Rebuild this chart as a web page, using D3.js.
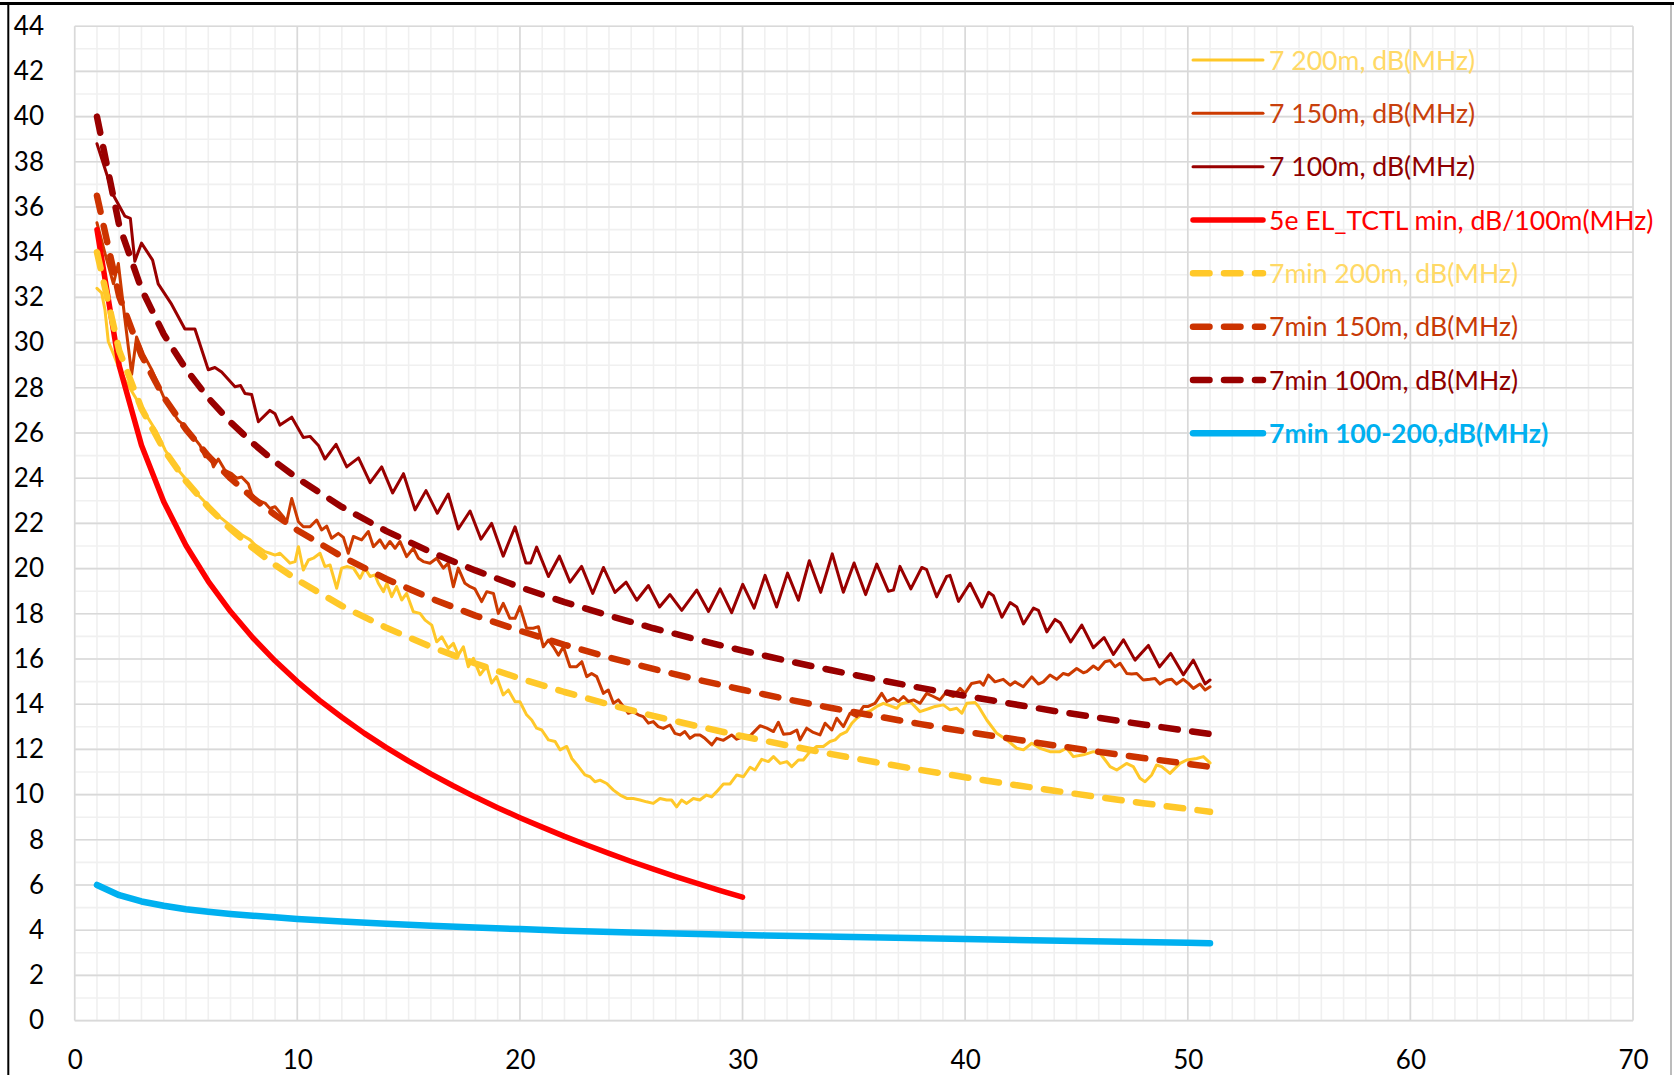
<!DOCTYPE html>
<html>
<head>
<meta charset="utf-8">
<script src="https://cdn.jsdelivr.net/npm/d3@7/dist/d3.min.js"></script>
<style>
  html, body { margin: 0; padding: 0; background: #ffffff; }
  svg { display: block; font-family: Lato, "Open Sans", sans-serif; }
</style>
</head>
<body>
<svg id="chart" width="1674" height="1075"></svg>
<script>
// ---- axis ticks ----
const xTickValues = [0, 10, 20, 30, 40, 50, 60, 70];
const yTickValues = [0, 2, 4, 6, 8, 10, 12, 14, 16, 18, 20, 22, 24, 26, 28, 30, 32, 34, 36, 38, 40, 42, 44];

// ---- measured cable curves: [MHz, dB] ----
const cable200m = [[1.0,32.4],[1.21,32.2],[1.36,31.45],[1.51,30.05],[1.74,29.5],[1.96,28.95],[2.26,28.35],[2.71,27.6],[3.08,27.0],[3.46,26.4],[3.68,26.05],[4.06,25.25],[4.36,24.8],[4.66,24.35],[4.96,24.0],[5.25,23.55],[5.55,23.25],[5.85,22.95],[6.5,22.3],[7.0,21.9],[7.5,21.5],[7.88,21.27],[8.1,21.05],[8.33,20.9],[8.55,20.75],[8.77,20.68],[9.0,20.6],[9.22,20.68],[9.45,20.46],[9.67,20.24],[9.9,20.31],[10.05,20.97],[10.27,19.94],[10.5,20.38],[10.72,20.46],[11.02,20.68],[11.24,20.09],[11.47,20.16],[11.77,19.13],[11.99,20.02],[12.22,20.09],[12.52,20.02],[12.82,19.57],[13.04,20.02],[13.27,19.65],[13.49,19.72],[13.64,19.35],[13.87,18.98],[14.02,19.35],[14.24,18.76],[14.46,19.2],[14.69,18.61],[14.91,18.9],[15.21,18.09],[15.51,18.02],[15.74,17.72],[16.04,17.5],[16.26,16.76],[16.49,16.98],[16.78,16.47],[17.01,16.69],[17.23,16.17],[17.46,16.54],[17.68,15.66],[17.91,16.03],[18.21,15.3],[18.51,15.69],[18.73,14.93],[18.95,15.22],[19.25,14.41],[19.48,14.63],[19.78,14.11],[20.0,14.11],[20.3,13.53],[20.53,13.3],[20.75,12.94],[20.98,12.86],[21.28,12.42],[21.58,12.35],[21.8,11.98],[22.1,12.13],[22.33,11.6],[22.63,11.24],[22.92,10.87],[23.15,10.79],[23.37,10.57],[23.6,10.64],[23.9,10.49],[24.2,10.2],[24.5,9.98],[24.8,9.83],[25.09,9.83],[25.39,9.76],[25.69,9.68],[25.99,9.61],[26.29,9.83],[26.59,9.76],[26.81,9.76],[27.04,9.46],[27.26,9.76],[27.49,9.61],[27.79,9.83],[28.08,9.76],[28.38,9.98],[28.61,9.9],[28.84,10.13],[29.14,10.47],[29.44,10.47],[29.74,10.87],[30.04,10.79],[30.34,11.21],[30.56,11.09],[30.86,11.56],[31.16,11.46],[31.39,11.68],[31.69,11.38],[31.99,11.46],[32.21,11.24],[32.51,11.53],[32.73,11.53],[33.03,11.9],[33.33,12.13],[33.63,12.13],[33.93,12.35],[34.16,12.42],[34.38,12.64],[34.68,12.79],[34.91,13.16],[35.13,13.38],[35.43,13.6],[35.73,13.7],[36.03,13.9],[36.33,14.04],[36.7,13.9],[36.93,13.82],[37.08,14.0],[37.52,14.12],[37.97,13.67],[38.42,13.82],[38.65,13.9],[39.02,13.97],[39.32,13.75],[39.62,13.82],[39.85,13.6],[40.07,14.04],[40.45,14.07],[40.6,13.9],[40.97,13.3],[41.42,12.71],[41.87,12.42],[42.32,12.05],[42.62,11.98],[42.99,12.27],[43.36,12.05],[43.81,11.9],[44.26,11.9],[44.56,12.05],[44.86,11.68],[45.31,11.76],[45.76,11.9],[46.06,11.83],[46.51,11.24],[46.81,11.09],[47.25,11.38],[47.55,11.24],[47.85,10.72],[48.08,10.57],[48.38,10.87],[48.6,11.31],[48.83,11.24],[49.2,10.94],[49.65,11.38],[49.95,11.53],[50.4,11.6],[50.7,11.68],[51.0,11.4]];

const cable150m = [[1.0,35.3],[1.36,33.95],[1.74,32.6],[1.96,33.5],[2.26,31.0],[2.56,28.6],[2.78,30.25],[3.08,29.5],[3.46,28.8],[4.06,27.45],[4.66,26.55],[4.96,26.3],[5.63,25.45],[5.85,24.95],[6.08,25.0],[6.23,24.5],[6.45,24.85],[6.75,24.35],[7.05,24.2],[7.28,24.0],[7.5,24.05],[7.8,23.75],[7.95,23.3],[8.17,23.04],[8.55,22.9],[8.77,22.66],[9.0,22.74],[9.37,22.3],[9.52,22.07],[9.75,23.1],[10.05,22.07],[10.27,21.85],[10.57,21.85],[10.87,22.15],[11.09,21.71],[11.32,21.88],[11.54,21.34],[11.84,21.56],[12.07,21.38],[12.29,20.68],[12.52,21.42],[12.89,21.27],[13.19,21.64],[13.42,20.97],[13.71,21.27],[13.94,20.9],[14.16,21.2],[14.39,20.9],[14.61,21.2],[14.91,20.53],[15.21,20.9],[15.44,20.46],[15.66,20.31],[15.96,20.24],[16.26,20.46],[16.56,20.02],[16.78,20.24],[17.01,19.2],[17.23,20.02],[17.53,19.35],[17.76,19.2],[17.98,19.1],[18.28,18.54],[18.51,18.98],[18.81,18.9],[19.03,18.02],[19.25,18.46],[19.55,17.8],[19.78,17.8],[20.0,18.32],[20.3,17.36],[20.6,17.36],[20.83,17.43],[21.05,16.54],[21.28,16.84],[21.5,16.54],[21.73,16.17],[21.95,16.54],[22.25,15.66],[22.55,15.66],[22.78,15.88],[23.0,15.22],[23.22,15.36],[23.45,15.22],[23.75,14.48],[23.97,14.63],[24.2,14.04],[24.42,14.19],[24.65,13.89],[24.87,13.6],[25.09,13.67],[25.32,13.53],[25.54,13.45],[25.77,13.16],[25.99,13.23],[26.21,13.01],[26.44,12.93],[26.74,13.08],[26.96,12.71],[27.19,12.64],[27.41,12.79],[27.64,12.49],[27.86,12.64],[28.09,12.64],[28.31,12.49],[28.62,12.2],[28.84,12.49],[29.14,12.4],[29.51,12.64],[29.74,12.45],[30.04,12.57],[30.34,12.6],[30.79,13.05],[31.09,12.94],[31.39,12.79],[31.61,13.2],[31.84,12.67],[32.14,12.7],[32.44,12.86],[32.58,12.42],[32.88,12.94],[33.18,12.75],[33.48,12.64],[33.71,13.16],[34.01,12.86],[34.23,13.38],[34.53,13.01],[34.83,13.6],[35.13,13.45],[35.43,13.9],[35.65,13.9],[35.95,14.04],[36.25,14.48],[36.48,14.12],[36.78,14.26],[37.0,14.12],[37.23,14.34],[37.45,14.12],[37.68,14.19],[37.97,14.04],[38.27,14.48],[38.57,14.34],[38.87,14.19],[39.1,14.48],[39.47,14.34],[39.77,14.7],[39.99,14.48],[40.29,14.92],[40.67,14.99],[40.82,14.84],[41.04,15.29],[41.34,14.99],[41.71,15.1],[42.02,14.84],[42.24,14.99],[42.61,14.77],[42.99,15.21],[43.29,14.89],[43.51,14.99],[43.81,15.29],[44.11,15.1],[44.41,15.36],[44.64,15.29],[45.01,15.58],[45.31,15.39],[45.46,15.44],[45.76,15.69],[45.98,15.54],[46.28,15.88],[46.51,15.93],[46.73,15.66],[46.96,15.81],[47.26,15.36],[47.48,15.34],[47.71,15.36],[48.0,15.07],[48.3,15.1],[48.53,15.14],[48.75,14.89],[49.05,15.07],[49.28,15.1],[49.5,14.89],[49.8,15.1],[50.03,14.92],[50.25,14.7],[50.55,14.89],[50.78,14.63],[51.0,14.77]];

const cable100m = [[1.0,38.8],[1.75,36.5],[2.25,35.6],[2.5,35.5],[2.7,33.6],[3.0,34.4],[3.5,33.65],[3.75,32.6],[4.35,31.7],[4.95,30.6],[5.4,30.6],[6.0,28.8],[6.3,28.9],[6.6,28.7],[7.2,28.05],[7.45,28.1],[7.65,27.75],[7.95,27.7],[8.25,26.5],[8.77,27.0],[9.0,26.85],[9.22,26.35],[9.75,26.7],[10.27,25.8],[10.57,25.85],[10.95,25.45],[11.24,24.85],[11.74,25.5],[12.22,24.5],[12.75,24.9],[13.27,23.8],[13.79,24.5],[14.28,23.35],[14.77,24.2],[15.29,22.6],[15.78,23.45],[16.29,22.45],[16.78,23.3],[17.23,21.75],[17.76,22.55],[18.25,21.3],[18.73,22.0],[19.25,20.55],[19.78,21.85],[20.27,20.25],[20.48,20.25],[20.75,20.95],[21.28,19.65],[21.77,20.55],[22.25,19.4],[22.77,20.1],[23.27,18.9],[23.75,20.05],[24.27,18.95],[24.77,19.4],[25.25,18.6],[25.77,19.25],[26.27,18.3],[26.74,18.85],[27.27,18.15],[27.94,19.05],[28.47,18.1],[28.99,19.1],[29.51,18.05],[30.01,19.3],[30.52,18.25],[31.01,19.7],[31.53,18.3],[32.02,19.8],[32.51,18.6],[33.0,20.35],[33.51,18.95],[34.03,20.65],[34.53,18.95],[35.01,20.25],[35.53,18.85],[36.03,20.2],[36.55,19.0],[36.78,19.05],[37.07,20.1],[37.56,19.1],[38.05,20.05],[38.27,19.95],[38.72,18.75],[39.17,19.65],[39.32,19.7],[39.7,18.55],[40.22,19.35],[40.75,18.3],[41.05,18.95],[41.27,18.8],[41.65,17.85],[42.02,18.5],[42.32,18.3],[42.62,17.55],[43.07,18.25],[43.29,18.15],[43.67,17.2],[44.04,17.75],[44.27,17.6],[44.74,16.75],[45.24,17.5],[45.76,16.5],[46.24,16.95],[46.66,16.2],[47.11,16.85],[47.63,15.95],[48.23,16.6],[48.73,15.65],[49.23,16.25],[49.8,15.3],[50.25,15.95],[50.78,14.9],[51.0,15.07]];

// ---- 5e limit (1..30 MHz) ----
const tctlFreq = [1,2,3,4,5,6,7,8,9,10,11,12,13,14,15,16,17,18,19,20,21,22,23,24,25,26,27,28,29,30];
const tctlLimit = [35.0,28.98,25.46,22.96,21.02,19.44,18.1,16.94,15.92,15.0,14.17,13.42,12.72,12.08,11.48,10.92,10.39,9.89,9.42,8.98,8.56,8.15,7.77,7.4,7.04,6.7,6.37,6.06,5.75,5.46];

// ---- cat 7 minimum curves ----
const minFreq = [1,2,3,4,5,6,7,8,9,10,12,14,16,18,20,22,24,26,28,30,32,34,36,38,40,42,44,46,48,50,51];
const min200m = [34.0,29.64,27.08,25.27,23.87,22.72,21.75,20.91,20.16,19.5,18.35,17.38,16.54,15.8,15.14,14.54,13.99,13.48,13.02,12.58,12.18,11.79,11.43,11.09,10.77,10.46,10.17,9.89,9.62,9.37,9.24];
const min150m = [36.5,32.05,29.44,27.59,26.16,24.98,23.99,23.13,22.38,21.7,20.53,19.54,18.68,17.92,17.25,16.63,16.07,15.56,15.08,14.64,14.22,13.83,13.47,13.12,12.79,12.48,12.18,11.89,11.62,11.36,11.23];
const min100m = [40.0,35.18,32.37,30.37,28.82,27.55,26.48,25.55,24.73,24.0,22.73,21.66,20.73,19.92,19.18,18.52,17.92,17.36,16.85,16.37,15.92,15.5,15.1,14.72,14.37,14.03,13.7,13.4,13.1,12.82,12.68];

const diffFreq = [1,2,3,4,5,6,7,8,9,10,12,14,16,18,20,22,25,28,31,35,40,45,50,51];
const diff100to200 = [6.0,5.55,5.27,5.08,4.93,4.82,4.72,4.64,4.57,4.5,4.39,4.29,4.2,4.12,4.05,3.98,3.9,3.83,3.77,3.7,3.61,3.52,3.44,3.42];

// ---- series styling (draw order = legend order) ----
const zip = (xs, ys) => xs.map((f, i) => [f, ys[i]]);
const series = [
  { name: "7 200m, dB(MHz)", data: cable200m, color: "#FFC829", text: "#FFD966", width: 3, dash: null },
  { name: "7 150m, dB(MHz)", data: cable150m, color: "#CC3A00", text: "#C8400C", width: 3, dash: null },
  { name: "7 100m, dB(MHz)", data: cable100m, color: "#990000", text: "#8E0000", width: 3, dash: null },
  { name: "5e EL_TCTL min, dB/100m(MHz)", data: zip(tctlFreq, tctlLimit), color: "#FF0000", text: "#FF0000", width: 5.5, dash: null },
  { name: "7min 200m, dB(MHz)", data: zip(minFreq, min200m), color: "#FFC829", text: "#FFD966", width: 6.5, dash: "16.5,14.5" },
  { name: "7min 150m, dB(MHz)", data: zip(minFreq, min150m), color: "#CC3300", text: "#C83A06", width: 6.5, dash: "16.5,14.5" },
  { name: "7min 100m, dB(MHz)", data: zip(minFreq, min100m), color: "#990000", text: "#8E0000", width: 6.5, dash: "16.5,14.5" },
  { name: "7min 100-200,dB(MHz)", data: zip(diffFreq, diff100to200), color: "#00B0F0", text: "#00B0F0", width: 6.5, dash: null, bold: true }
];

// ---- layout ----
const svg = d3.select("#chart");
const W = 1674, H = 1075;
const plot = { left: 74.7, right: 1633, top: 26.2, bottom: 1020.6 };

const x = d3.scaleLinear().domain([0, 70]).range([plot.left, plot.right]);
const y = d3.scaleLinear().domain([0, 44]).range([plot.bottom, plot.top]);

svg.append("rect").attr("width", W).attr("height", H).attr("fill", "#ffffff");

// gridlines: minor every 1 unit, major at the tick values
const grid = svg.append("g");
grid.selectAll("line.vminor").data(d3.range(0, 71)).join("line")
  .attr("x1", d => x(d)).attr("x2", d => x(d))
  .attr("y1", plot.top).attr("y2", plot.bottom)
  .attr("stroke", "#f0f0f0").attr("stroke-width", 1.6);
grid.selectAll("line.hminor").data(d3.range(0, 45)).join("line")
  .attr("x1", plot.left).attr("x2", plot.right)
  .attr("y1", d => y(d)).attr("y2", d => y(d))
  .attr("stroke", "#f0f0f0").attr("stroke-width", 1.6);
grid.selectAll("line.vmajor").data(xTickValues).join("line")
  .attr("x1", d => x(d)).attr("x2", d => x(d))
  .attr("y1", plot.top).attr("y2", plot.bottom)
  .attr("stroke", "#d9d9d9").attr("stroke-width", 1.6);
grid.selectAll("line.hmajor").data(yTickValues).join("line")
  .attr("x1", plot.left).attr("x2", plot.right)
  .attr("y1", d => y(d)).attr("y2", d => y(d))
  .attr("stroke", "#d9d9d9").attr("stroke-width", 1.6);

// axes (labels only)
const yAxis = svg.append("g")
  .attr("transform", `translate(${plot.left},0)`)
  .call(d3.axisLeft(y).tickValues(yTickValues).tickSize(0).tickPadding(30.7));
const xAxis = svg.append("g")
  .attr("transform", `translate(0,${plot.bottom})`)
  .call(d3.axisBottom(x).tickValues(xTickValues).tickSize(0).tickPadding(30));
[yAxis, xAxis].forEach(g => {
  g.select(".domain").remove();
  g.selectAll("text").attr("font-family", "Lato, 'Open Sans', sans-serif")
    .attr("font-size", 26).attr("fill", "#000000");
});

// series lines
const line = d3.line().x(d => x(d[0])).y(d => y(d[1]));
const lines = svg.append("g");
series.forEach(s => {
  lines.append("path")
    .datum(s.data)
    .attr("d", line)
    .attr("fill", "none")
    .attr("stroke", s.color)
    .attr("stroke-width", s.width)
    .attr("stroke-linejoin", "round")
    .attr("stroke-linecap", "round")
    .attr("stroke-dasharray", s.dash);
});

// legend
const legend = svg.append("g").attr("transform", "translate(1193,60)");
const rowH = 53.33;
series.forEach((s, i) => {
  const row = legend.append("g").attr("transform", `translate(0,${i * rowH})`);
  row.append("line")
    .attr("x1", 0).attr("x2", 70).attr("y1", 0).attr("y2", 0)
    .attr("stroke", s.color).attr("stroke-width", s.width)
    .attr("stroke-linecap", "round")
    .attr("stroke-dasharray", s.dash);
  row.append("text")
    .attr("x", 76).attr("y", 0).attr("dy", "0.36em")
    .attr("font-size", 26.6)
    .attr("font-weight", s.bold ? 700 : 400)
    .attr("fill", s.text)
    .text(s.name);
});

// outer frame
svg.append("line").attr("x1", 0).attr("x2", W).attr("y1", 3.5).attr("y2", 3.5)
  .attr("stroke", "#000").attr("stroke-width", 3);
svg.append("line").attr("x1", 8.3).attr("x2", 8.3).attr("y1", 2).attr("y2", H)
  .attr("stroke", "#000").attr("stroke-width", 2);
svg.append("line").attr("x1", 1671).attr("x2", 1671).attr("y1", 5).attr("y2", H)
  .attr("stroke", "#a6a6a6").attr("stroke-width", 1.5);
</script>
</body>
</html>
